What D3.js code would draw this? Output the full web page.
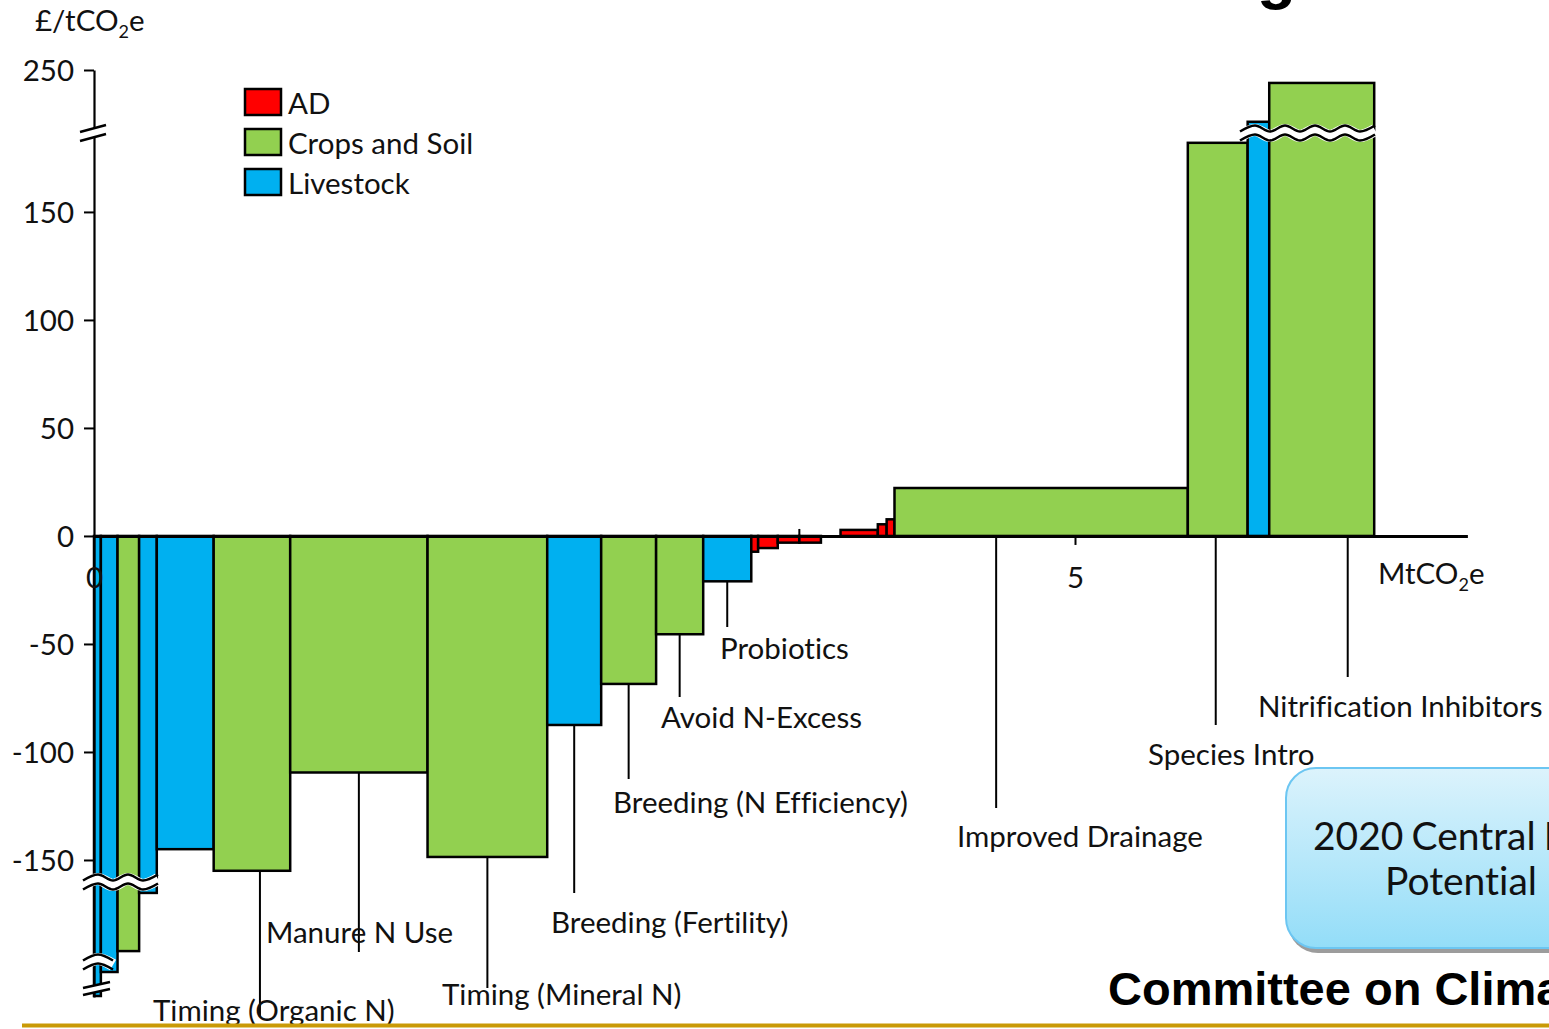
<!DOCTYPE html>
<html><head><meta charset="utf-8">
<script src="https://cdn.jsdelivr.net/npm/d3@7"></script>
<style>body{margin:0;background:#fff;overflow:hidden} svg{display:block} text{font-variant-ligatures:none;font-feature-settings:"liga" 0}</style>
</head><body>
<svg id="c" width="1549" height="1029"></svg>
<script>
// ---------------- data ----------------
const groups = ["AD", "Crops and Soil", "Livestock"];
const groupColors = ["#FF0000", "#92D050", "#00B0F0"];
const measures = [
  "Livestock A", "Livestock B", "Crops and Soil A", "Livestock C", "Livestock D",
  "Timing (Organic N)", "Manure N Use", "Timing (Mineral N)", "Breeding (Fertility)",
  "Breeding (N Efficiency)", "Avoid N-Excess", "Probiotics",
  "AD 1", "AD 2", "AD 3", "AD 4", "AD 5", "AD 6", "AD 7", "AD 8",
  "Improved Drainage", "Species Intro", "Livestock E", "Nitrification Inhibitors"
];
const measureGroup = [
  "Livestock", "Livestock", "Crops and Soil", "Livestock", "Livestock",
  "Crops and Soil", "Crops and Soil", "Crops and Soil", "Livestock",
  "Crops and Soil", "Crops and Soil", "Livestock",
  "AD", "AD", "AD", "AD", "AD", "AD", "AD", "AD",
  "Crops and Soil", "Crops and Soil", "Livestock", "Crops and Soil"
];
const abatement = [0.035, 0.085, 0.11, 0.09, 0.29, 0.39, 0.70, 0.61, 0.275, 0.28, 0.24, 0.245,
  0.035, 0.10, 0.11, 0.11, 0.10, 0.19, 0.045, 0.04, 1.495, 0.305, 0.11, 0.535];
const cost = [-406, -256, -197, -167.5, -145, -155, -109.5, -148.6, -87.5, -68.5, -45.5, -21,
  -7.3, -5.6, -3.1, -3.1, 0, 2.8, 5.4, 7.7, 22.2, 182, 226, 244];
const yTicks = [250, 150, 100, 50, 0, -50, -100, -150];
const xTicks = [0, 5];

// ---------------- layout ----------------
const FONT = "Lato, 'Open Sans', sans-serif";
const FS = 29.5;
const svg = d3.select("#c");
const x = d3.scaleLinear().domain([0, 7]).range([94, 1467.4]);
// broken value axis (piecewise)
const y = d3.scaleLinear()
  .domain([-408, -400, -280, -250, -200, -165, -157, 183.3, 224.5, 250])
  .range([997, 993, 980, 970, 957, 888, 875.1, 140, 125, 70]);
const color = d3.scaleOrdinal().domain(groups).range(groupColors);

let cum = 0;
const bars = measures.map((m, i) => {
  const d = {name: m, group: measureGroup[i], x0: cum, x1: cum + abatement[i], cost: cost[i]};
  cum += abatement[i];
  return d;
});

// annotations: measure index, leader offset (px), leader end y, text position
const annot = [
  {m: 11, dx: 0,   end: 627,  tx: 720,  ty: 659},
  {m: 10, dx: 0,   end: 697,  tx: 661,  ty: 728},
  {m: 9,  dx: 0,   end: 779,  tx: 613,  ty: 813},
  {m: 8,  dx: 0,   end: 893,  tx: 551,  ty: 933},
  {m: 7,  dx: 0,   end: 988,  tx: 442,  ty: 1005},
  {m: 6,  dx: 0,   end: 952,  tx: 266,  ty: 943},
  {m: 5,  dx: 8,   end: 1017, tx: 153,  ty: 1021},
  {m: 20, dx: -45, end: 808,  tx: 957,  ty: 847},
  {m: 21, dx: -2,  end: 725,  tx: 1148, ty: 765},
  {m: 23, dx: 26,  end: 677,  tx: 1258, ty: 717}
];

// ---------------- bars ----------------
svg.append("g").selectAll("rect")
  .data(bars.filter(d => d.cost !== 0))
  .join("rect")
  .attr("x", d => x(d.x0))
  .attr("width", d => x(d.x1) - x(d.x0))
  .attr("y", d => Math.min(y(0), y(d.cost)))
  .attr("height", d => Math.abs(y(d.cost) - y(0)))
  .attr("fill", d => color(d.group))
  .attr("stroke", "#000").attr("stroke-width", 2.5);

// ---------------- axes ----------------
const yAxis = svg.append("g").attr("transform", `translate(${x(0)},0)`)
  .call(d3.axisLeft(y).tickValues(yTicks).tickSize(10).tickSizeOuter(0).tickPadding(10)
    .tickFormat(d => String(d)));
yAxis.select(".domain").attr("stroke-width", 2.2);
yAxis.selectAll(".tick line").attr("stroke-width", 2);
yAxis.selectAll("text").attr("font-family", FONT).attr("font-size", FS).attr("fill", "#111").attr("dy", "0.36em");

const xAxis = svg.append("g").attr("transform", `translate(0,${y(0)})`)
  .call(d3.axisBottom(x).tickValues(xTicks).tickSize(9).tickSizeOuter(0).tickPadding(22).tickFormat(d => String(d)));
xAxis.select(".domain").attr("stroke-width", 3);
xAxis.selectAll(".tick line").attr("stroke-width", 2).filter(d => d === 0).remove();
xAxis.selectAll("text").attr("font-family", FONT).attr("font-size", FS).attr("fill", "#111");

// small stub above axis
svg.append("line").attr("x1", x(bars[15].x0)).attr("x2", x(bars[15].x0))
  .attr("y1", y(0) - 7).attr("y2", y(0)).attr("stroke", "#000").attr("stroke-width", 2);

// ---------------- break marks ----------------
function wavePts(x0, x1, yc, amp, period) {
  const pts = [];
  for (let xx = x0; xx <= x1 + 0.01; xx += period / 2) {
    const k = Math.round((xx - x0) / (period / 2));
    pts.push([xx, yc + (k % 2 ? -amp : amp)]);
  }
  return pts;
}
const wline = d3.line().curve(d3.curveMonotoneX);
function waveBreak(x0, x1, yTop, yBot) {
  const g = svg.append("g");
  const mid = (yTop + yBot) / 2;
  g.append("path").attr("d", wline(wavePts(x0, x1, mid, 3, 30)))
    .attr("fill", "none").attr("stroke", "#fff").attr("stroke-width", (yBot - yTop) + 3);
  [yTop, yBot].forEach(yy => g.append("path").attr("d", wline(wavePts(x0, x1, yy, 3, 30)))
    .attr("fill", "none").attr("stroke", "#000").attr("stroke-width", 2.5));
}
waveBreak(1240, 1380, 128.5, 137.5);
waveBreak(83, 167, 877.5, 886.5);
waveBreak(83, 127, 957.5, 966.5);

function slantBreak(ax, ay, bx, by, gap) {
  const g = svg.append("g");
  g.append("path").attr("d", `M${ax},${ay}L${bx},${by}L${bx},${by + gap}L${ax},${ay + gap}Z`).attr("fill", "#fff");
  [0, gap].forEach(o => g.append("line").attr("x1", ax).attr("y1", ay + o).attr("x2", bx).attr("y2", by + o)
    .attr("stroke", "#000").attr("stroke-width", 2.5));
}
slantBreak(80, 132, 106, 125, 9);
slantBreak(83, 988, 110, 982, 7);

// ---------------- annotations ----------------
const ann = svg.append("g");
annot.forEach(a => {
  const b = bars[a.m];
  const lx = (x(b.x0) + x(b.x1)) / 2 + a.dx;
  const ly = b.cost < 0 ? y(b.cost) : y(0);
  ann.append("line").attr("x1", lx).attr("x2", lx).attr("y1", ly).attr("y2", a.end)
    .attr("stroke", "#000").attr("stroke-width", 2);
  ann.append("text").attr("x", a.tx).attr("y", a.ty).text(b.name)
    .attr("font-family", FONT).attr("font-size", FS).attr("fill", "#111");
});

// ---------------- titles ----------------
const yt = svg.append("text").attr("x", 35).attr("y", 31).attr("font-family", FONT).attr("font-size", FS).attr("fill", "#111");
yt.append("tspan").text("£/tCO");
yt.append("tspan").text("2").attr("font-size", 18).attr("dy", 7);
yt.append("tspan").text("e").attr("dy", -7);

const xt = svg.append("text").attr("x", 1378).attr("y", 584).attr("font-family", FONT).attr("font-size", FS).attr("fill", "#111");
xt.append("tspan").text("MtCO");
xt.append("tspan").text("2").attr("font-size", 18).attr("dy", 7);
xt.append("tspan").text("e").attr("dy", -7);

// ---------------- legend ----------------
const lg = svg.append("g");
groups.forEach((gname, i) => {
  lg.append("rect").attr("x", 245).attr("y", 89 + i * 40).attr("width", 36).attr("height", 26)
    .attr("fill", color(gname)).attr("stroke", "#000").attr("stroke-width", 2.5);
  lg.append("text").attr("x", 288).attr("y", 114 + i * 40).text(gname)
    .attr("font-family", FONT).attr("font-size", FS).attr("fill", "#111");
});

// ---------------- callout box ----------------
const defs = svg.append("defs");
const grad = defs.append("linearGradient").attr("id", "bx").attr("x1", 0).attr("y1", 0).attr("x2", 0).attr("y2", 1);
grad.append("stop").attr("offset", 0).attr("stop-color", "#dcf3fc");
grad.append("stop").attr("offset", 1).attr("stop-color", "#93ddf8");
svg.append("rect").attr("x", 1288).attr("y", 772).attr("width", 320).attr("height", 181).attr("rx", 30).attr("fill", "#9c9c9c");
svg.append("rect").attr("x", 1286).attr("y", 768).attr("width", 320).attr("height", 180).attr("rx", 30)
  .attr("fill", "url(#bx)").attr("stroke", "#6cc6f2").attr("stroke-width", 2);
svg.append("text").attr("x", 1313).attr("y", 850).text("2020 Central Feasible")
  .attr("font-family", FONT).attr("font-size", 39).attr("word-spacing", -2).attr("fill", "#111");
svg.append("text").attr("x", 1385).attr("y", 895).text("Potential")
  .attr("font-family", FONT).attr("font-size", 39).attr("fill", "#111");

// ---------------- footer ----------------
svg.append("text").attr("x", 1108).attr("y", 1005).text("Committee on Climate Change")
  .attr("font-family", "'Liberation Sans', Arial, sans-serif").attr("font-weight", "bold").attr("font-size", 47).attr("fill", "#000");
svg.append("rect").attr("x", 22).attr("y", 1023.5).attr("width", 1527).attr("height", 4).attr("fill", "#C99A06");
// clipped slide title fragment
svg.append("text").attr("x", 1257).attr("y", -3).text("g")
  .attr("font-family", "'Liberation Sans', Arial, sans-serif").attr("font-weight", "bold").attr("font-size", 64).attr("fill", "#000");
</script>
</body></html>
